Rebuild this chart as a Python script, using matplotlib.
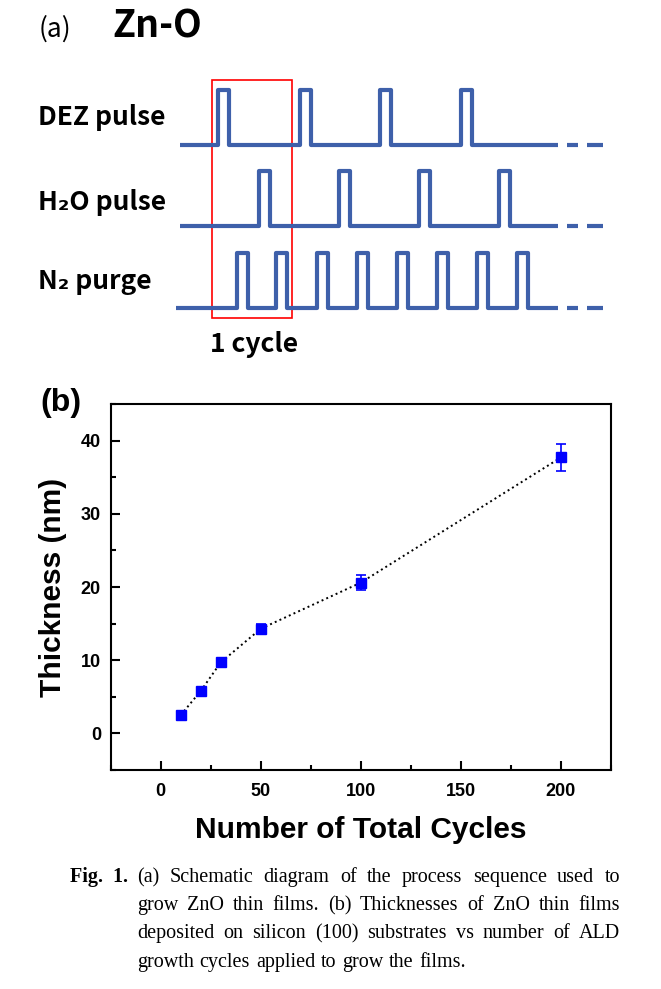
import numpy as np
import matplotlib
matplotlib.use('Agg')
import matplotlib.pyplot as plt
from matplotlib.patches import Rectangle
from matplotlib.ticker import MultipleLocator

# (b) thickness vs cycles
cycles = [10, 20, 30, 50, 100, 200]
thickness = [2.5, 5.8, 9.7, 14.3, 20.6, 37.7]
thick_err = [0.3, 0.3, 0.3, 0.7, 1.0, 1.9]
x_ticks = [0, 50, 100, 150, 200]
y_ticks = [0, 10, 20, 30, 40]

# (a) pulse sequence: where each pulse starts along the time axis of the sketch
dez_starts = [218, 300, 380, 461]
h2o_starts = [259, 339, 419, 499]
n2_starts = [237, 276, 317, 357, 397, 437, 477, 517]
row_names = ['DEZ pulse', 'H\u2082O pulse', 'N\u2082 purge']

caption = [
    "(a) Schematic diagram of the process sequence used to",
    "grow ZnO thin films. (b) Thicknesses of ZnO thin films",
    "deposited on silicon (100) substrates vs number of ALD",
    "growth cycles applied to grow the films.",
]

sans_kr = ['Noto Sans CJK KR', 'DejaVu Sans']
arial = ['Liberation Sans', 'DejaVu Sans']
serif = ['Liberation Serif', 'DejaVu Serif']

fig = plt.figure(figsize=(6.61, 9.89), dpi=100)

# overlay in pixel units for the schematic and caption
ov = fig.add_axes([0, 0, 1, 1])
ov.set_xlim(0, 661)
ov.set_ylim(989, 0)
ov.axis('off')


def pulse_train(starts, x0, x1, base, top, w=11):
    xs, ys = [x0], [base]
    for s in starts:
        xs += [s, s, s + w, s + w]
        ys += [base, top, top, base]
    xs.append(x1)
    ys.append(base)
    return xs, ys


blue = '#3e60aa'
rows = [
    (dez_starts, 180, 145, 90, 125),
    (h2o_starts, 180, 225.5, 171, 210),
    (n2_starts, 176, 307.5, 253, 289),
]
for (starts, x0, base, top, ty), name in zip(rows, row_names):
    xs, ys = pulse_train(starts, x0, 558, base, top)
    ov.plot(xs, ys, color=blue, lw=3, solid_joinstyle='round', solid_capstyle='butt')
    ov.plot([567, 578, np.nan, 587, 603], [base] * 5, color=blue, lw=3, solid_capstyle='butt')
    ov.text(38, ty, name, family=sans_kr, weight='bold', fontsize=19, va='baseline')

ov.add_patch(Rectangle((211.5, 80), 80, 238, fill=False, ec='#ff0000', lw=1.2))
ov.text(210, 352, '1 cycle', family=sans_kr, weight='bold', fontsize=19, va='baseline')
ov.text(39, 37, '(a)', family=sans_kr, fontsize=19, weight='medium', va='baseline')
ov.text(112, 38, 'Zn-O', family=sans_kr, fontsize=27, weight='bold', va='baseline')
ov.text(40, 403, '(b)', family=arial, fontsize=23, weight='bold', va='center')

# caption, justified
fs_cap = 14.5
x_ind, x_right = 137, 620
base_y = [882, 910, 938, 967]
ov.text(128, base_y[0], 'Fig.  1.', family=serif, weight='bold', fontsize=fs_cap,
        va='baseline', ha='right')
renderer = fig.canvas.get_renderer()
for i, line in enumerate(caption):
    words = line.split(' ')
    arts = [ov.text(0, base_y[i], w, family=serif, fontsize=fs_cap, va='baseline') for w in words]
    widths = [a.get_window_extent(renderer).width for a in arts]
    if i < len(caption) - 1:
        gap = (x_right - x_ind - sum(widths)) / (len(words) - 1)
    else:
        gap = fs_cap * 0.25 * 100 / 72 * 1.15
    x = x_ind
    for a, wd in zip(arts, widths):
        a.set_x(x)
        x += wd + gap

# panel (b)
ax = fig.add_axes([110.7 / 661, 219 / 989, 500.3 / 661, 366 / 989])
ax.plot(cycles, thickness, ls=':', color='black', lw=1.4, zorder=2)
ax.errorbar(cycles, thickness, yerr=thick_err, fmt='none', ecolor='blue',
            elinewidth=1.2, capsize=3.5, capthick=1.2, zorder=3)
ax.plot(cycles, thickness, ls='none', marker='s', ms=6.5, mfc='blue', mec='blue', zorder=4)
ax.set_xlim(-25, 225)
ax.set_ylim(-5, 45)
ax.set_xticks(x_ticks)
ax.set_yticks(y_ticks)
ax.xaxis.set_minor_locator(MultipleLocator(25))
ax.yaxis.set_minor_locator(MultipleLocator(5))
ax.tick_params(which='both', direction='in', top=False, right=False, width=1.5)
ax.tick_params(which='major', length=6.2)
ax.tick_params(which='minor', length=3.6)
ax.tick_params(axis='y', pad=7)
ax.tick_params(axis='x', pad=9)
for sp in ax.spines.values():
    sp.set_linewidth(1.5)
for lab in ax.get_xticklabels() + ax.get_yticklabels():
    lab.set_family(arial)
    lab.set_fontweight('bold')
    lab.set_fontsize(13)
ax.set_xlabel('Number of Total Cycles', family=arial, weight='bold', fontsize=21.5)
ax.set_ylabel('Thickness (nm)', family=arial, weight='bold', fontsize=21.5)
ax.xaxis.set_label_coords(0.5, -0.125)
ax.yaxis.set_label_coords(-0.088, 0.5)

fig.savefig('out.png', dpi=100)
